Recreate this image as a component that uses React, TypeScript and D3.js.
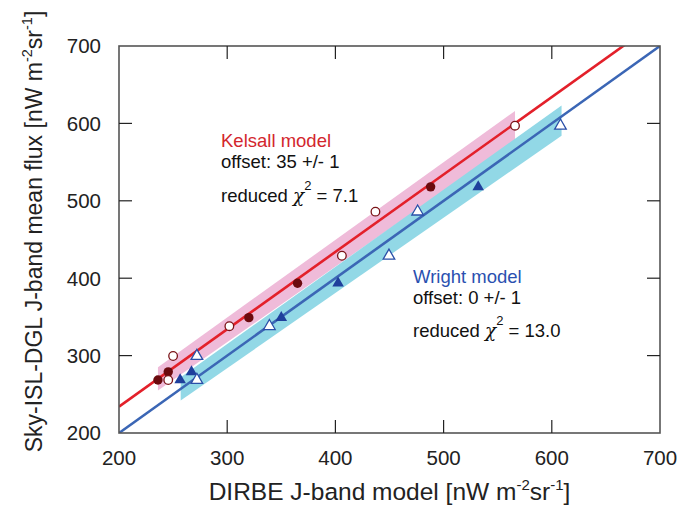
import React from "react";
import * as d3 from "d3";

const W = 680;
const H = 508;

// axis ticks
const xTicks = [200, 300, 400, 500, 600, 700];
const yTicks = [200, 300, 400, 500, 600, 700];

// observed Sky-ISL-DGL flux (shared y values)
const kelsallFilled: [number, number][] = [
  [236, 268.5],
  [245.5, 279],
  [320, 349],
  [365, 393.5],
  [488, 518],
];
const kelsallOpen: [number, number][] = [
  [245.5, 268.5],
  [250, 299.5],
  [302, 338],
  [406, 429],
  [437, 486],
  [566, 597],
];
const wrightFilled: [number, number][] = [
  [256.5, 268.5],
  [267, 279],
  [350, 349],
  [402.5, 393.5],
  [532, 518],
];
const wrightOpen: [number, number][] = [
  [272, 268.5],
  [272, 299.5],
  [339, 338],
  [449.5, 429],
  [476, 486],
  [608, 597],
];

// fit lines: y = x + offset
const kelsallOffset = 34;
const wrightOffset = 0;
const kelsallLineX = [200, 668];
const wrightLineX = [200, 700];

// uncertainty bands: [x, lo, hi]
const kelsallBand: [number, number, number][] = [
  [236, 255, 285],
  [566, 577, 616],
];
const wrightBand: [number, number, number][] = [
  [257, 242, 272],
  [609, 584, 623],
];

const FONT = "'Liberation Sans', Arial, Helvetica, sans-serif";

export default function App() {
  const x = d3.scaleLinear().domain([200, 700]).range([119, 660]);
  const y = d3.scaleLinear().domain([200, 700]).range([433, 46]);

  const bandPath = (b: [number, number, number][]) => {
    const top = b.map((d) => [x(d[0]), y(d[2])] as [number, number]);
    const bot = b
      .slice()
      .reverse()
      .map((d) => [x(d[0]), y(d[1])] as [number, number]);
    return d3.line()([...top, ...bot]) + "Z";
  };

  const kLine = d3
    .line<number>()
    .x((d) => x(d))
    .y((d) => y(d + kelsallOffset));
  const wLine = d3
    .line<number>()
    .x((d) => x(d))
    .y((d) => y(d + wrightOffset));

  const tri = d3.symbol().type(d3.symbolTriangle).size(58)();

  const tickLen = 13;
  const x0 = x(200),
    x1 = x(700),
    y0 = y(200),
    y1 = y(700);

  return (
    <svg
      width={W}
      height={H}
      style={{ position: "absolute", left: 0, top: 0, background: "#fff" }}
      fontFamily={FONT}
    >
      <defs>
        <clipPath id="plot">
          <rect x={x0} y={y1} width={x1 - x0} height={y0 - y1} />
        </clipPath>
      </defs>
      <g clipPath="url(#plot)">
        <path d={bandPath(kelsallBand)} fill="#efbbd9" />
        <path d={bandPath(wrightBand)} fill="#92d8e6" />
        <path d={kLine(kelsallLineX) || ""} stroke="#e3202a" strokeWidth={2.6} fill="none" />
        <path d={wLine(wrightLineX) || ""} stroke="#3b66b5" strokeWidth={2.6} fill="none" />
      </g>

      {/* markers */}
      {kelsallFilled.map((d, i) => (
        <circle key={"kf" + i} cx={x(d[0])} cy={y(d[1])} r={4.7} fill="#6b0a0e" />
      ))}
      {kelsallOpen.map((d, i) => (
        <circle
          key={"ko" + i}
          cx={x(d[0])}
          cy={y(d[1])}
          r={4.3}
          fill="#fff"
          stroke="#7a1418"
          strokeWidth={1.3}
        />
      ))}
      {wrightFilled.map((d, i) => (
        <path
          key={"wf" + i}
          d={tri || ""}
          transform={`translate(${x(d[0])},${y(d[1])})`}
          fill="#1f3f9c"
        />
      ))}
      {wrightOpen.map((d, i) => (
        <path
          key={"wo" + i}
          d={tri || ""}
          transform={`translate(${x(d[0])},${y(d[1])})`}
          fill="#fff"
          stroke="#2a4fa8"
          strokeWidth={1.3}
        />
      ))}

      {/* frame */}
      <rect x={x0} y={y1} width={x1 - x0} height={y0 - y1} fill="none" stroke="#555" strokeWidth={1.6} />
      {xTicks.slice(1, -1).map((t) => (
        <g key={"xt" + t}>
          <line x1={x(t)} x2={x(t)} y1={y0} y2={y0 - tickLen} stroke="#222" strokeWidth={1.2} />
          <line x1={x(t)} x2={x(t)} y1={y1} y2={y1 + tickLen} stroke="#222" strokeWidth={1.2} />
        </g>
      ))}
      {yTicks.slice(1, -1).map((t) => (
        <g key={"yt" + t}>
          <line x1={x0} x2={x0 + tickLen} y1={y(t)} y2={y(t)} stroke="#222" strokeWidth={1.2} />
          <line x1={x1} x2={x1 - tickLen} y1={y(t)} y2={y(t)} stroke="#222" strokeWidth={1.2} />
        </g>
      ))}

      {/* tick labels */}
      {xTicks.map((t) => (
        <text key={"xl" + t} x={x(t)} y={465} textAnchor="middle" fontSize={20.5} fill="#222">
          {t}
        </text>
      ))}
      {yTicks.map((t) => (
        <text
          key={"yl" + t}
          x={101}
          y={y(t)}
          dy="0.36em"
          textAnchor="end"
          fontSize={20.5}
          fill="#222"
        >
          {t}
        </text>
      ))}

      {/* axis titles */}
      <text x={(x0 + x1) / 2} y={500} textAnchor="middle" fontSize={24.5} fill="#222">
        DIRBE J-band model [nW m
        <tspan fontSize={15} dy={-10}>-2</tspan>
        <tspan dy={10}>sr</tspan>
        <tspan fontSize={15} dy={-10}>-1</tspan>
        <tspan dy={10}>]</tspan>
      </text>
      <text
        transform={`translate(42,${(y0 + y1) / 2 - 8}) rotate(-90)`}
        textAnchor="middle"
        fontSize={23}
        fill="#222"
      >
        Sky-ISL-DGL J-band mean flux [nW m
        <tspan fontSize={14.5} dy={-10}>-2</tspan>
        <tspan dy={10}>sr</tspan>
        <tspan fontSize={14.5} dy={-10}>-1</tspan>
        <tspan dy={10}>]</tspan>
      </text>

      {/* annotations */}
      <g fontSize={18.5}>
        <text x={221} y={147} fill="#d3262d">Kelsall model</text>
        <text x={221} y={168} fill="#111">offset: 35 +/- 1</text>
        <text x={221} y={202} fill="#111">
          reduced{" "}
          <tspan fontStyle="italic" fontFamily="'DejaVu Serif', serif">χ</tspan>
          <tspan fontSize={13} dy={-12}>2</tspan>
          <tspan dy={12}> = 7.1</tspan>
        </text>
        <text x={413} y={283} fill="#2a50b0">Wright model</text>
        <text x={413} y={304} fill="#111">offset: 0 +/- 1</text>
        <text x={413} y={337} fill="#111">
          reduced{" "}
          <tspan fontStyle="italic" fontFamily="'DejaVu Serif', serif">χ</tspan>
          <tspan fontSize={13} dy={-12}>2</tspan>
          <tspan dy={12}> = 13.0</tspan>
        </text>
      </g>
    </svg>
  );
}
